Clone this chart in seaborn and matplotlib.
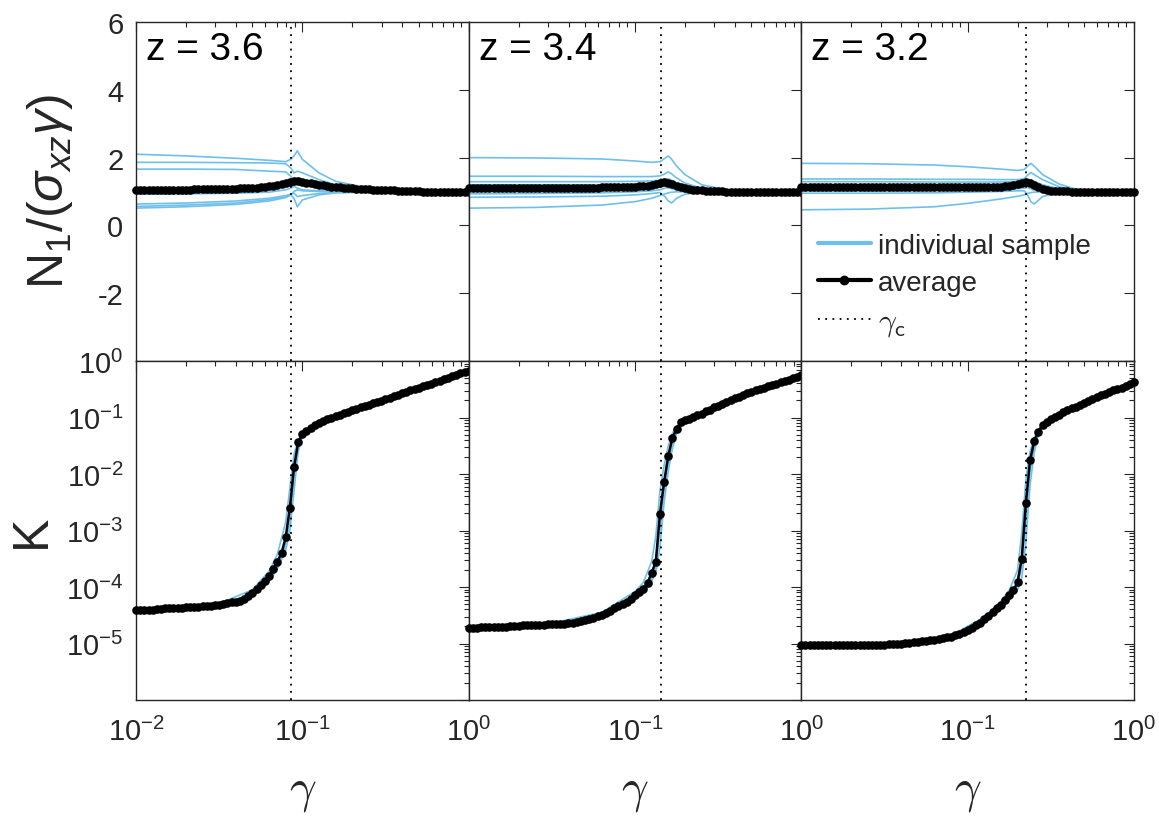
import numpy as np
import pandas as pd
import matplotlib
matplotlib.use("Agg")
import matplotlib.pyplot as plt
import seaborn as sns
from matplotlib.lines import Line2D
from matplotlib.ticker import LogLocator, NullFormatter, FixedLocator

sns.set_style("white")
plt.rcParams["font.family"] = ["Liberation Sans", "DejaVu Sans"]
plt.rcParams["mathtext.fontset"] = "custom"
plt.rcParams["mathtext.rm"] = "Liberation Sans"
plt.rcParams["mathtext.it"] = "Liberation Sans:italic"
plt.rcParams["mathtext.bf"] = "Liberation Sans:bold"
plt.rcParams["mathtext.sf"] = "Liberation Sans"
plt.rcParams["axes.unicode_minus"] = False

# ---------------- data ----------------
PANEL_LABELS = ["z = 3.6", "z = 3.4", "z = 3.2"]
GAMMA_C = [0.086, 0.143, 0.224]

GAMMA = [0.01, 0.01059, 0.01122, 0.01189, 0.01259, 0.01334, 0.01413, 0.01496, 0.01585, 0.01679,
         0.01778, 0.01884, 0.01995, 0.02113, 0.02239, 0.02371, 0.02512, 0.02661, 0.02818, 0.02985,
         0.03162, 0.03350, 0.03548, 0.03758, 0.03981, 0.04217, 0.04467, 0.04732, 0.05012, 0.05309,
         0.05623, 0.05957, 0.06310, 0.06683, 0.07079, 0.07499, 0.07943, 0.08414, 0.08913, 0.09441,
         0.1000, 0.1059, 0.1122, 0.1189, 0.1259, 0.1334, 0.1413, 0.1496, 0.1585, 0.1679,
         0.1778, 0.1884, 0.1995, 0.2113, 0.2239, 0.2371, 0.2512, 0.2661, 0.2818, 0.2985,
         0.3162, 0.3350, 0.3548, 0.3758, 0.3981, 0.4217, 0.4467, 0.4732, 0.5012, 0.5309,
         0.5623, 0.5957, 0.6310, 0.6683, 0.7079, 0.7499, 0.7943, 0.8414, 0.8913, 0.9441,
         1.0]

# average N1/(sigma_xz gamma)
N1_AVG_Z36 = [1.04, 1.04, 1.04, 1.04, 1.04, 1.04, 1.04, 1.05, 1.05, 1.05,
              1.05, 1.05, 1.05, 1.05, 1.06, 1.06, 1.06, 1.06, 1.06, 1.06,
              1.06, 1.07, 1.07, 1.08, 1.08, 1.09, 1.09, 1.10, 1.10, 1.11,
              1.12, 1.13, 1.15, 1.17, 1.20, 1.22, 1.25, 1.28, 1.30, 1.30,
              1.28, 1.26, 1.24, 1.22, 1.20, 1.18, 1.16, 1.14, 1.13, 1.12,
              1.11, 1.10, 1.09, 1.08, 1.07, 1.07, 1.06, 1.05, 1.05, 1.04,
              1.04, 1.03, 1.03, 1.02, 1.02, 1.02, 1.01, 1.01, 1.01, 1.00,
              1.00, 1.00, 1.00, 1.00, 1.00, 0.99, 0.99, 0.99, 0.99, 0.99,
              0.99]
N1_AVG_Z34 = [1.09, 1.09, 1.09, 1.09, 1.09, 1.09, 1.09, 1.09, 1.10, 1.10,
              1.10, 1.10, 1.10, 1.10, 1.10, 1.10, 1.10, 1.10, 1.10, 1.10,
              1.10, 1.10, 1.10, 1.11, 1.11, 1.11, 1.11, 1.11, 1.11, 1.11,
              1.11, 1.11, 1.12, 1.12, 1.12, 1.12, 1.12, 1.13, 1.13, 1.14,
              1.14, 1.15, 1.16, 1.17, 1.19, 1.22, 1.25, 1.27, 1.26, 1.22,
              1.17, 1.13, 1.10, 1.07, 1.05, 1.04, 1.03, 1.02, 1.02, 1.01,
              1.01, 1.01, 1.00, 1.00, 1.00, 1.00, 1.00, 0.99, 0.99, 0.99,
              0.99, 0.99, 0.99, 0.99, 0.99, 0.99, 0.99, 0.99, 0.99, 0.99,
              0.99]
N1_AVG_Z32 = [1.14, 1.14, 1.14, 1.14, 1.14, 1.14, 1.14, 1.14, 1.14, 1.14,
              1.14, 1.14, 1.14, 1.14, 1.14, 1.13, 1.13, 1.13, 1.13, 1.13,
              1.13, 1.13, 1.13, 1.13, 1.13, 1.13, 1.13, 1.13, 1.13, 1.13,
              1.13, 1.13, 1.13, 1.13, 1.13, 1.13, 1.13, 1.13, 1.13, 1.13,
              1.13, 1.13, 1.13, 1.13, 1.13, 1.13, 1.13, 1.14, 1.14, 1.15,
              1.16, 1.18, 1.21, 1.25, 1.29, 1.26, 1.19, 1.12, 1.07, 1.04,
              1.02, 1.02, 1.01, 1.01, 1.01, 1.00, 1.00, 1.00, 1.00, 1.00,
              1.00, 1.00, 1.00, 1.00, 0.99, 0.99, 0.99, 0.99, 0.99, 0.99,
              0.99]

# average K, stored as log10(K)
LOGK_AVG_Z36 = [-4.41, -4.41, -4.40, -4.40, -4.40, -4.39, -4.39, -4.38, -4.38, -4.38,
                -4.37, -4.37, -4.36, -4.36, -4.35, -4.35, -4.34, -4.33, -4.33, -4.32,
                -4.31, -4.30, -4.29, -4.27, -4.26, -4.24, -4.21, -4.16, -4.10, -4.04,
                -3.97, -3.90, -3.81, -3.69, -3.55, -3.40, -3.12, -2.60, -1.88, -1.44,
                -1.30, -1.24, -1.19, -1.14, -1.10, -1.06, -1.03, -1.00, -0.97, -0.95,
                -0.92, -0.90, -0.87, -0.85, -0.82, -0.80, -0.77, -0.75, -0.72, -0.70,
                -0.67, -0.65, -0.62, -0.60, -0.57, -0.55, -0.52, -0.50, -0.47, -0.45,
                -0.42, -0.40, -0.37, -0.35, -0.32, -0.30, -0.27, -0.25, -0.22, -0.20,
                -0.17]
LOGK_AVG_Z34 = [-4.72, -4.72, -4.72, -4.71, -4.71, -4.71, -4.71, -4.70, -4.70, -4.70,
                -4.69, -4.69, -4.69, -4.68, -4.68, -4.68, -4.67, -4.67, -4.67, -4.66,
                -4.66, -4.66, -4.65, -4.65, -4.64, -4.63, -4.62, -4.61, -4.59, -4.57,
                -4.55, -4.52, -4.49, -4.46, -4.42, -4.38, -4.34, -4.30, -4.26, -4.21,
                -4.15, -4.09, -4.03, -3.93, -3.75, -3.55, -2.70, -2.14, -1.68, -1.36,
                -1.20, -1.08, -1.05, -1.02, -0.99, -0.96, -0.93, -0.89, -0.86, -0.82,
                -0.79, -0.76, -0.72, -0.69, -0.66, -0.63, -0.60, -0.57, -0.54, -0.52,
                -0.49, -0.47, -0.45, -0.42, -0.40, -0.38, -0.35, -0.33, -0.30, -0.28,
                -0.25]
LOGK_AVG_Z32 = [-5.03, -5.03, -5.03, -5.03, -5.03, -5.03, -5.03, -5.03, -5.03, -5.03,
                -5.03, -5.03, -5.02, -5.02, -5.02, -5.02, -5.02, -5.02, -5.02, -5.02,
                -5.02, -5.01, -5.01, -5.00, -5.00, -4.99, -4.99, -4.98, -4.97, -4.96,
                -4.95, -4.94, -4.93, -4.92, -4.91, -4.89, -4.88, -4.85, -4.83, -4.80,
                -4.76, -4.73, -4.68, -4.63, -4.57, -4.51, -4.45, -4.38, -4.31, -4.23,
                -4.15, -4.06, -3.91, -3.50, -2.51, -1.76, -1.42, -1.25, -1.14, -1.08,
                -1.03, -0.99, -0.95, -0.91, -0.87, -0.84, -0.81, -0.77, -0.74, -0.71,
                -0.68, -0.64, -0.61, -0.58, -0.55, -0.52, -0.50, -0.47, -0.44, -0.41,
                -0.38]

# individual samples of N1/(sigma_xz gamma)
N1_SAMPLE_GAMMA_Z36 = [0.01, 0.01995, 0.03981, 0.0631, 0.07943, 0.08511, 0.08913, 0.09333,
                       0.1, 0.1259, 0.1585, 0.2512, 0.3981, 0.631, 1.0]
N1_SAMPLES_Z36 = [
    [2.10, 2.05, 1.98, 1.92, 1.88, 1.95, 2.05, 2.20, 1.95, 1.55, 1.30, 1.10, 1.02, 1.00, 0.99],
    [1.86, 1.86, 1.85, 1.84, 1.82, 1.70, 1.55, 1.60, 1.55, 1.35, 1.20, 1.06, 1.01, 1.00, 0.99],
    [1.66, 1.66, 1.65, 1.60, 1.58, 1.45, 1.30, 1.40, 1.35, 1.22, 1.12, 1.04, 1.01, 1.00, 0.99],
    [0.92, 0.93, 0.95, 0.98, 1.05, 1.10, 1.15, 1.10, 1.05, 1.02, 1.00, 0.99, 0.99, 0.99, 0.99],
    [0.63, 0.66, 0.72, 0.80, 0.88, 0.92, 0.95, 0.85, 0.88, 0.94, 0.97, 0.99, 0.99, 0.99, 0.99],
    [0.56, 0.60, 0.66, 0.76, 0.84, 0.90, 0.80, 0.55, 0.75, 0.90, 0.96, 0.98, 0.99, 0.99, 0.99],
    [0.51, 0.55, 0.62, 0.72, 0.82, 0.90, 1.00, 1.05, 1.02, 1.00, 0.99, 0.99, 0.99, 0.99, 0.99],
]
N1_SAMPLE_GAMMA_Z34 = [0.01, 0.02512, 0.0631, 0.1, 0.1259, 0.1413, 0.1514, 0.1585,
                       0.166, 0.1778, 0.1995, 0.2512, 0.3548, 0.5012, 1.0]
N1_SAMPLES_Z34 = [
    [2.00, 1.99, 1.96, 1.90, 1.86, 1.88, 1.98, 2.05, 1.95, 1.75, 1.50, 1.20, 1.05, 1.01, 0.99],
    [1.45, 1.45, 1.44, 1.44, 1.44, 1.46, 1.52, 1.58, 1.52, 1.40, 1.25, 1.10, 1.03, 1.00, 0.99],
    [1.29, 1.29, 1.29, 1.30, 1.31, 1.33, 1.36, 1.38, 1.33, 1.25, 1.16, 1.06, 1.02, 1.00, 0.99],
    [1.20, 1.20, 1.20, 1.21, 1.22, 1.23, 1.20, 1.10, 1.12, 1.08, 1.04, 1.01, 1.00, 0.99, 0.99],
    [0.93, 0.94, 0.96, 0.99, 1.02, 1.05, 1.10, 1.12, 1.08, 1.05, 1.02, 1.00, 0.99, 0.99, 0.99],
    [0.83, 0.84, 0.86, 0.90, 0.94, 0.97, 0.85, 0.72, 0.66, 0.80, 0.92, 0.98, 0.99, 0.99, 0.99],
    [0.51, 0.53, 0.60, 0.70, 0.80, 0.88, 0.93, 0.96, 0.98, 0.99, 0.99, 0.99, 0.99, 0.99, 0.99],
]
N1_SAMPLE_GAMMA_Z32 = [0.01, 0.02512, 0.0631, 0.1, 0.1585, 0.1995, 0.2188, 0.2291,
                       0.2399, 0.2512, 0.2818, 0.3548, 0.4467, 0.631, 1.0]
N1_SAMPLES_Z32 = [
    [1.83, 1.82, 1.78, 1.73, 1.66, 1.62, 1.65, 1.75, 1.83, 1.75, 1.50, 1.22, 1.07, 1.01, 0.99],
    [1.37, 1.37, 1.36, 1.36, 1.35, 1.35, 1.38, 1.48, 1.56, 1.50, 1.35, 1.14, 1.04, 1.00, 0.99],
    [1.29, 1.29, 1.28, 1.28, 1.28, 1.29, 1.30, 1.33, 1.35, 1.30, 1.20, 1.08, 1.02, 1.00, 0.99],
    [1.02, 1.02, 1.03, 1.04, 1.06, 1.08, 1.10, 1.12, 1.08, 1.04, 1.01, 1.00, 0.99, 0.99, 0.99],
    [0.95, 0.95, 0.96, 0.98, 1.00, 1.02, 1.02, 0.90, 0.70, 0.63, 0.85, 0.97, 0.99, 0.99, 0.99],
    [0.46, 0.48, 0.55, 0.65, 0.78, 0.86, 0.90, 0.94, 0.97, 0.98, 0.99, 0.99, 0.99, 0.99, 0.99],
]

# individual samples of K, stored as log10(K)
K_SAMPLE_GAMMA_Z36 = [0.01, 0.03162, 0.05012, 0.0631, 0.07079, 0.07943, 0.08414,
                      0.08913, 0.09441, 0.1, 0.1259, 0.2512, 1.0]
LOGK_SAMPLES_Z36 = [
    [-4.42, -4.33, -4.15, -3.90, -3.68, -3.35, -3.00, -2.30, -1.60, -1.34, -1.11, -0.77, -0.17],
    [-4.40, -4.29, -4.05, -3.72, -3.42, -2.85, -2.25, -1.65, -1.40, -1.29, -1.09, -0.77, -0.17],
    [-4.41, -4.32, -4.13, -3.86, -3.62, -3.25, -2.85, -2.05, -1.50, -1.32, -1.10, -0.77, -0.17],
]
K_SAMPLE_GAMMA_Z34 = [0.01, 0.03162, 0.0631, 0.1, 0.1122, 0.1259, 0.1334, 0.1413,
                      0.1496, 0.1585, 0.1679, 0.1778, 0.1995, 0.3981, 1.0]
LOGK_SAMPLES_Z34 = [
    [-4.73, -4.68, -4.53, -4.22, -4.12, -3.90, -3.75, -3.30, -2.50, -1.95, -1.55, -1.28, -1.06, -0.66, -0.25],
    [-4.71, -4.64, -4.45, -4.08, -3.92, -3.55, -3.10, -2.30, -1.85, -1.50, -1.28, -1.17, -1.04, -0.66, -0.25],
    [-4.72, -4.67, -4.51, -4.18, -4.08, -3.85, -3.65, -3.00, -2.30, -1.80, -1.45, -1.24, -1.05, -0.66, -0.25],
]
K_SAMPLE_GAMMA_Z32 = [0.01, 0.03981, 0.07943, 0.1259, 0.1585, 0.1778, 0.1995, 0.2113,
                      0.2239, 0.2371, 0.2512, 0.2661, 0.2818, 0.3981, 1.0]
LOGK_SAMPLES_Z32 = [
    [-5.04, -5.01, -4.90, -4.62, -4.38, -4.24, -4.05, -3.85, -3.20, -2.20, -1.62, -1.32, -1.16, -0.87, -0.38],
    [-5.02, -4.99, -4.86, -4.53, -4.25, -4.06, -3.70, -3.05, -2.10, -1.60, -1.36, -1.22, -1.13, -0.87, -0.38],
    [-5.03, -5.00, -4.89, -4.59, -4.34, -4.20, -3.98, -3.65, -2.85, -1.95, -1.50, -1.28, -1.15, -0.87, -0.38],
]

N1_AVG = [N1_AVG_Z36, N1_AVG_Z34, N1_AVG_Z32]
LOGK_AVG = [LOGK_AVG_Z36, LOGK_AVG_Z34, LOGK_AVG_Z32]
N1_SG = [N1_SAMPLE_GAMMA_Z36, N1_SAMPLE_GAMMA_Z34, N1_SAMPLE_GAMMA_Z32]
N1_S = [N1_SAMPLES_Z36, N1_SAMPLES_Z34, N1_SAMPLES_Z32]
K_SG = [K_SAMPLE_GAMMA_Z36, K_SAMPLE_GAMMA_Z34, K_SAMPLE_GAMMA_Z32]
LOGK_S = [LOGK_SAMPLES_Z36, LOGK_SAMPLES_Z34, LOGK_SAMPLES_Z32]

# ---------------- style ----------------
BLUE = "#6EC0EC"
AX_COLOR = "#262626"
TICK_FS = 21
LABEL_FS = 36
DOT = (0, (1, 3))
MS = 6.2

fig = plt.figure(figsize=(11.59, 8.20), dpi=100)

W = (998 / 3) / 1159
LEFT0 = 136 / 1159
H = 339 / 820
BOT_TOP = 1 - 362 / 820
BOT_BOT = 1 - 701 / 820


def frame(gammas, samples, col):
    rows = []
    for s, vals in enumerate(samples):
        for g, v in zip(gammas, vals):
            rows.append((s, g, v))
    return pd.DataFrame(rows, columns=["sample", "gamma", col])


def style_axes(ax):
    for sp in ax.spines.values():
        sp.set_visible(True)
        sp.set_color(AX_COLOR)
        sp.set_linewidth(1.0)
    ax.tick_params(which="both", direction="in", top=True, right=True,
                   color=AX_COLOR, labelcolor=AX_COLOR, labelsize=TICK_FS, width=0.8)
    ax.tick_params(which="major", length=7)
    ax.tick_params(which="minor", length=3.5)
    ax.tick_params(axis="x", which="major", pad=12)
    ax.tick_params(axis="y", which="major", pad=9)


for i in range(3):
    left = LEFT0 + i * W
    ax_t = fig.add_axes([left, BOT_TOP, W, H])
    ax_b = fig.add_axes([left, BOT_BOT, W, H])
    for ax in (ax_t, ax_b):
        ax.set_xscale("log")

    # ---- top: N1 ----
    df_s = frame(N1_SG[i], N1_S[i], "N1")
    sns.lineplot(data=df_s, x="gamma", y="N1", units="sample", estimator=None,
                 color=BLUE, lw=1.2, sort=False, legend=False, ax=ax_t)
    df_a = pd.DataFrame({"gamma": GAMMA, "N1": N1_AVG[i]})
    sns.lineplot(data=df_a, x="gamma", y="N1", color="k", lw=1.8, marker="o",
                 markersize=MS, markeredgecolor="k", markeredgewidth=0,
                 clip_on=False, legend=False, ax=ax_t, zorder=4)
    ax_t.axvline(GAMMA_C[i], color="k", ls=DOT, lw=1.3, zorder=5)

    # ---- bottom: K ----
    df_ks = frame(K_SG[i], LOGK_S[i], "logK")
    df_ks["K"] = 10.0 ** df_ks["logK"]
    sns.lineplot(data=df_ks, x="gamma", y="K", units="sample", estimator=None,
                 color=BLUE, lw=1.2, sort=False, legend=False, ax=ax_b)
    df_ka = pd.DataFrame({"gamma": GAMMA, "K": 10.0 ** np.array(LOGK_AVG[i])})
    sns.lineplot(data=df_ka, x="gamma", y="K", color="k", lw=1.8, marker="o",
                 markersize=MS, markeredgecolor="k", markeredgewidth=0,
                 clip_on=False, legend=False, ax=ax_b, zorder=4)
    ax_b.axvline(GAMMA_C[i], color="k", ls=DOT, lw=1.3, zorder=5)
    ax_b.set_yscale("log")

    for ax in (ax_t, ax_b):
        ax.set_xlim(0.01, 1.0)
        ax.set_xlabel("")
        ax.set_ylabel("")
        style_axes(ax)
        ax.xaxis.set_major_locator(FixedLocator([0.01, 0.1, 1.0]))
        ax.xaxis.set_minor_locator(LogLocator(base=10, subs=np.arange(2, 10), numticks=20))
        ax.xaxis.set_minor_formatter(NullFormatter())

    # top axis ticks
    ax_t.set_ylim(-4, 6)
    ax_t.set_yticks([-4, -2, 0, 2, 4, 6])
    ax_t.yaxis.set_minor_locator(FixedLocator([]))
    ax_t.tick_params(labelbottom=False)
    if i == 0:
        ax_t.set_yticklabels(["", "-2", "0", "2", "4", "6"])
    else:
        ax_t.tick_params(labelleft=False)

    # bottom axis ticks
    ax_b.set_ylim(1e-6, 1.0)
    ax_b.yaxis.set_major_locator(FixedLocator([1e-6, 1e-5, 1e-4, 1e-3, 1e-2, 1e-1, 1.0]))
    ax_b.yaxis.set_minor_locator(LogLocator(base=10, subs=np.arange(2, 10), numticks=20))
    ax_b.yaxis.set_minor_formatter(NullFormatter())
    if i == 0:
        ax_b.set_yticklabels(["", r"$10^{-5}$", r"$10^{-4}$", r"$10^{-3}$",
                              r"$10^{-2}$", r"$10^{-1}$", r"$10^{0}$"])
        ax_b.set_xticklabels([r"$10^{-2}$", r"$10^{-1}$", r"$10^{0}$"])
    else:
        ax_b.tick_params(labelleft=False)
        ax_b.set_xticklabels(["", r"$10^{-1}$", r"$10^{0}$"])

    ax_t.text(0.03, 0.92, PANEL_LABELS[i], transform=ax_t.transAxes,
              ha="left", va="center", fontsize=28, color="k")

    # x label gamma
    fig.text(left + W / 2, 1 - 792 / 820, r"$\gamma$", ha="center", va="center",
             fontsize=34, math_fontfamily="cm", color=AX_COLOR)

    if i == 2:
        handles = [Line2D([], [], color=BLUE, lw=3),
                   Line2D([], [], color="k", lw=3, marker="o", markersize=6),
                   Line2D([], [], color="k", ls=DOT, lw=1.3)]
        leg = ax_t.legend(handles, ["individual sample", "average", r"$\gamma_\mathsf{c}$"],
                          loc="upper left", bbox_to_anchor=(818 / 1159, 1 - 234 / 820),
                          bbox_transform=fig.transFigure, frameon=False, fontsize=20,
                          handlelength=1.9, handletextpad=0.25, labelspacing=0.38,
                          borderpad=0, borderaxespad=0)
        leg.get_texts()[2].set_math_fontfamily("cm")
        leg.get_texts()[2].set_fontsize(23)

fig.text(50 / 1159, 1 - 192 / 820, r"N$_1$/($\sigma_{xz}\gamma$)", rotation=90,
         ha="center", va="center", fontsize=LABEL_FS, color=AX_COLOR)
fig.text(32 / 1159, 1 - 531 / 820, "K", rotation=90, ha="center", va="center",
         fontsize=LABEL_FS, color=AX_COLOR)

fig.savefig("out.png", dpi=100)
